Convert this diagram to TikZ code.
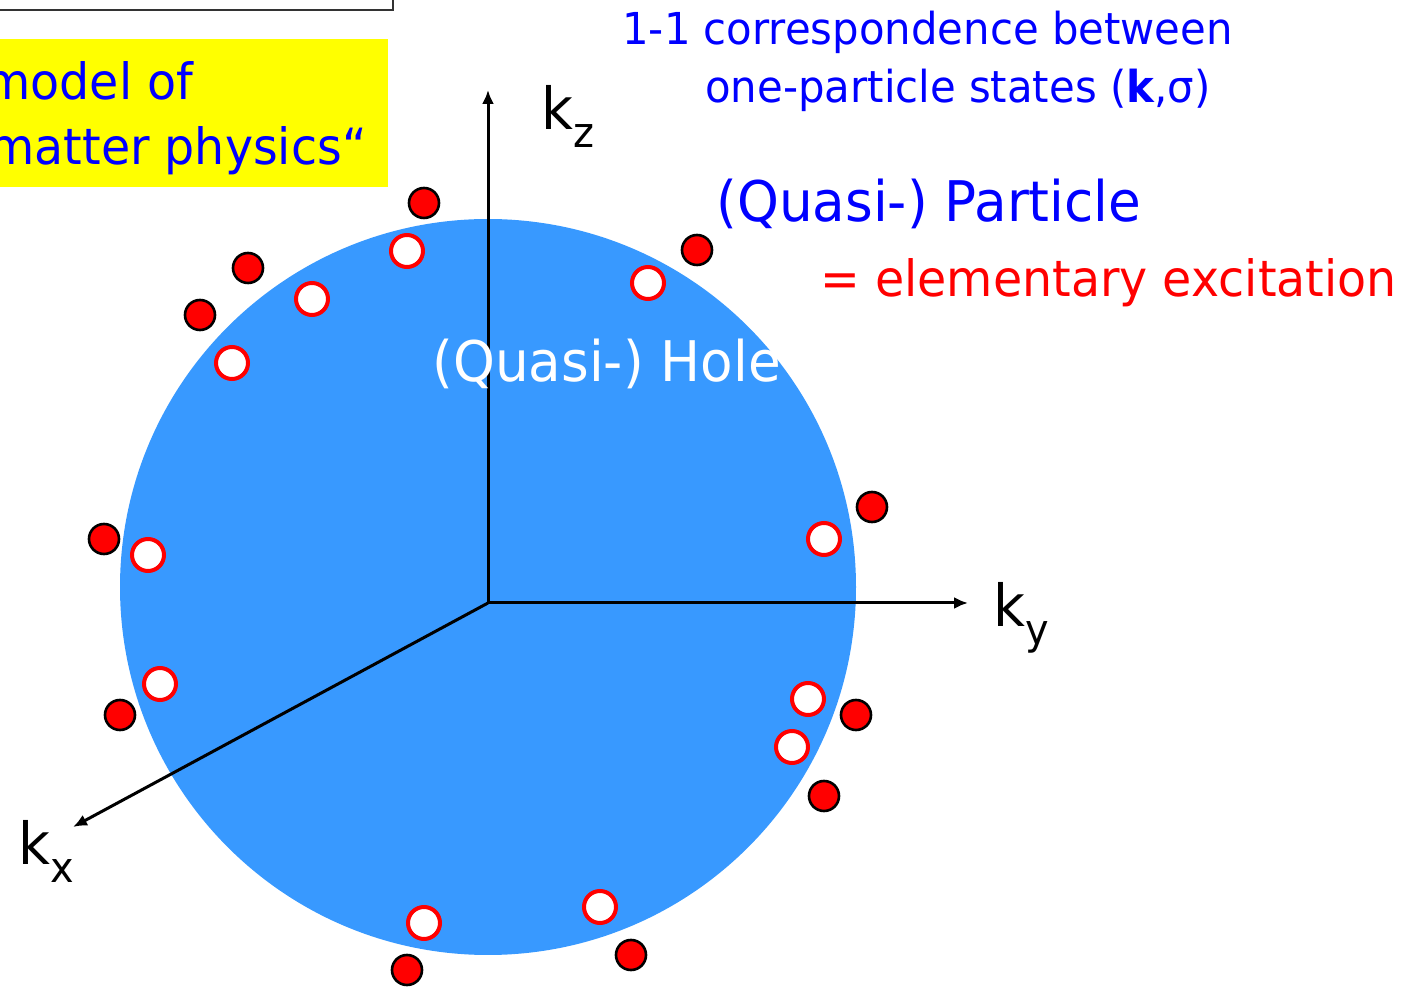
\documentclass[tikz,border=0pt]{standalone}
\usepackage{fontspec}
\setmainfont{DejaVu Sans}[FakeStretch=0.95]
\usetikzlibrary{arrows.meta}

\definecolor{seablue}{RGB}{56,153,255}
\definecolor{slideblue}{RGB}{0,0,255}
\definecolor{slidered}{RGB}{255,0,0}
\definecolor{slideyellow}{RGB}{255,255,0}

\tikzset{
  axis/.style={line width=1.5pt, -{Latex[length=7pt,width=6pt]}},
  particle/.style={circle, fill=slidered, draw=black, line width=1.3pt,
    minimum size=15pt, inner sep=0pt},
  hole/.style={circle, fill=white, draw=slidered, line width=2pt,
    minimum size=16pt, inner sep=0pt},
  txt/.style={inner sep=0pt, anchor=base west},
}

\begin{document}
\begin{tikzpicture}[x=0.5pt, y=-0.5pt]
\useasboundingbox (0,0) rectangle (1405,988);
\clip (0,0) rectangle (1405,988);

% boxes from the slide
\draw[line width=1pt, draw=black!80] (-20,-30) rectangle (393,10);
\fill[slideyellow] (0,39) rectangle (388,187);
\node[txt, text=slideblue, font=\fontsize{25}{30}\selectfont] (std1) at (-16,100) {model of};
\node[txt, text=slideblue, font=\fontsize{25}{30}\selectfont] (std2) at (-12,165) {matter physics“};

% Fermi sphere
\fill[seablue] (488,587) circle (368);

% axes
\coordinate (o) at (488,603);
\coordinate (kzend) at (488,90);
\coordinate (kyend) at (968,603);
\coordinate (kxend) at (73,827);
\draw[axis] (o) -- (kzend);
\draw[axis] (o) -- (kyend);
\draw[axis] (o) -- (kxend);
\node[txt, font=\fontsize{29}{34}\selectfont] (kz) at (541,130) {k\raisebox{-0.3em}{\fontsize{21}{24}\selectfont z}};
\node[txt, font=\fontsize{29}{34}\selectfont] (ky) at (993,627) {k\raisebox{-0.3em}{\fontsize{21}{24}\selectfont y}};
\node[txt, font=\fontsize{29}{34}\selectfont] (kx) at (18,865) {k\raisebox{-0.3em}{\fontsize{21}{24}\selectfont x}};

% excitations
\foreach \x/\y [count=\i] in {424/203, 697/250, 248/268, 200/315, 872/507,
    104/539, 856/715, 120/715, 824/796, 631/955, 407/970}
  \node[particle] (p\i) at (\x,\y) {};
\foreach \x/\y [count=\i] in {407/251, 648/283, 312/299, 232/363, 824/539,
    148/555, 808/699, 160/684, 792/747, 600/907, 424/923}
  \node[hole] (h\i) at (\x,\y) {};

% labels
\node[txt, text=white, font=\fontsize{28}{33}\selectfont] (holelbl) at (432,382) {(Quasi-) Hole};
\node[txt, text=slideblue, font=\fontsize{22}{27}\selectfont] (corr1) at (622,45) {1-1 correspondence between};
\node[txt, text=slideblue, font=\fontsize{22}{27}\selectfont] (corr2) at (705,103) {one-particle states (\textbf{k},σ)};
\node[txt, text=slideblue, font=\fontsize{28}{33}\selectfont] (partlbl) at (716,222) {(Quasi-) Particle};
\node[txt, text=slidered, font=\fontsize{25}{30}\selectfont] (exclbl) at (820,297) {= elementary excitation};
\end{tikzpicture}
\end{document}
